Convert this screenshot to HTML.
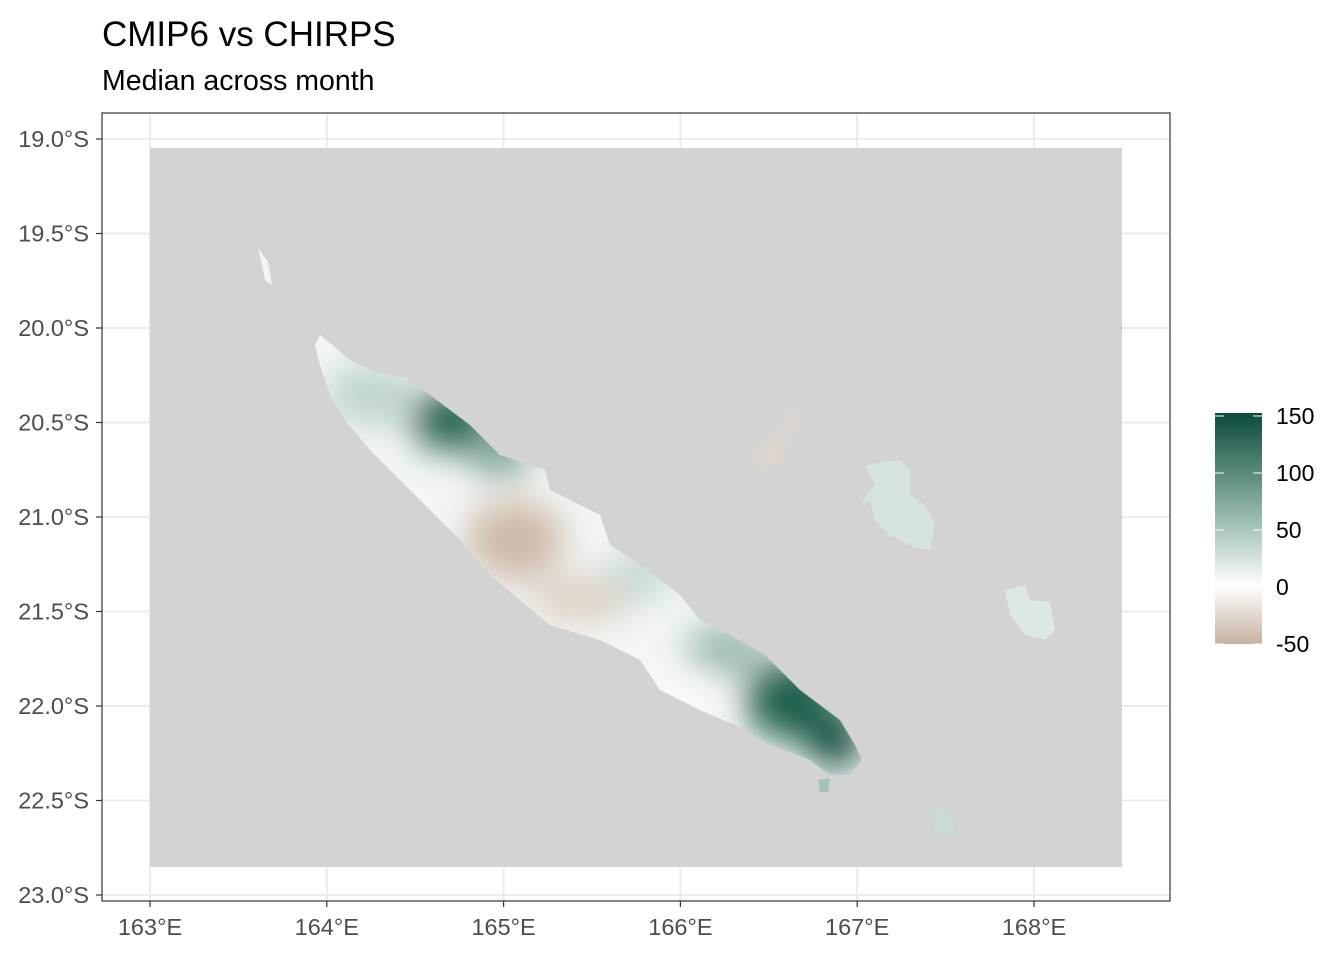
<!DOCTYPE html>
<html><head><meta charset="utf-8">
<style>
body{margin:0;background:#fff;}
svg{display:block;font-family:"Liberation Sans",sans-serif;}
</style></head>
<body>
<svg id="chart" width="1344" height="960">
<defs>
<filter id="blur" x="-50%" y="-50%" width="200%" height="200%"><feGaussianBlur stdDeviation="18"/></filter>
<filter id="blur2" x="-50%" y="-50%" width="200%" height="200%"><feGaussianBlur stdDeviation="8"/></filter>
<clipPath id="islandClip"><polygon id="mainPoly" points="320,335 350,360 375,372 405,378 430,395 470,425 500,455 545,470 550,490 600,515 610,545 640,565 680,595 700,620 740,640 765,655 800,690 840,720 855,745 862,760 850,775 830,775 810,760 770,745 735,725 700,710 660,690 640,660 600,640 550,625 520,600 490,575 460,540 430,510 400,480 370,450 345,420 330,395 320,365 315,345"/></clipPath>
<linearGradient id="cbar" x1="0" y1="0" x2="0" y2="1">
<stop offset="0" stop-color="#0b4a3c"/>
<stop offset="0.25" stop-color="#58887a"/>
<stop offset="0.5" stop-color="#a8c5bb"/>
<stop offset="0.75" stop-color="#ffffff"/>
<stop offset="1" stop-color="#c6b1a0"/>
</linearGradient>
</defs>
<text x="102" y="46" font-size="35" fill="#000">CMIP6 vs CHIRPS</text>
<text x="102" y="90" font-size="28.5" fill="#000">Median across month</text>
<g id="grid"></g>
<rect x="150" y="148" width="972" height="719" fill="#d3d3d3"/>
<g clip-path="url(#islandClip)">
<rect x="300" y="320" width="580" height="470" fill="#f3f6f5"/>
<g filter="url(#blur)">
<ellipse cx="370" cy="395" rx="45" ry="30" fill="#bcd3cb"/>
<ellipse cx="450" cy="420" rx="40" ry="30" fill="#1f5e4e"/>
<ellipse cx="500" cy="455" rx="30" ry="20" fill="#6c978a"/>
<ellipse cx="515" cy="540" rx="50" ry="40" fill="#cdb9a8"/>
<ellipse cx="580" cy="600" rx="50" ry="22" fill="#dccdc0"/>
<ellipse cx="640" cy="575" rx="35" ry="25" fill="#c5d8d1"/>
<ellipse cx="725" cy="650" rx="40" ry="25" fill="#94b5aa"/>
<ellipse cx="790" cy="700" rx="45" ry="40" fill="#1f5e4e"/>
<ellipse cx="835" cy="740" rx="28" ry="28" fill="#08463a"/>
<ellipse cx="690" cy="690" rx="30" ry="20" fill="#ffffff"/>
</g>
</g>
<g>
<polygon points="258,248 268,262 272,285 265,280 262,265" fill="#f4f6f5"/>
<polygon points="750,460 775,440 790,420 785,405 795,410 798,420 785,440 780,460 760,465" fill="#e3d6cb" filter="url(#blur2)"/>
<polygon points="865,465 900,460 910,470 910,495 925,505 935,525 930,550 915,548 890,535 875,520 870,500 860,505 875,485" fill="#d6e4df"/>
<polygon points="1005,590 1025,585 1030,600 1050,602 1055,630 1045,640 1025,635 1010,615" fill="#dde8e4"/>
<polygon points="930,808 950,812 955,835 935,835" fill="#c9dbd4"/>
<polygon points="818,780 830,778 828,792 820,792" fill="#a6c2b8"/>
</g>
<rect x="102" y="113" width="1068" height="788" fill="none" stroke="#333" stroke-width="1.2"/>
<g id="axes"></g>
<g>
<rect x="1215" y="413" width="47" height="231" fill="url(#cbar)"/>
<g id="cbticks"></g>
</g>
</svg>
<script>
const xTicks=[163,164,165,166,167,168];
const yTicks=[19.0,19.5,20.0,20.5,21.0,21.5,22.0,22.5,23.0];
const legendValues=[150,100,50,0,-50];
const NS='http://www.w3.org/2000/svg';
const xs=v=>150+(v-163)*176.8;
const ys=v=>139+(v-19)*189;
const ls=v=>416+(150-v)*(228/200);
const grid=document.getElementById('grid'),axes=document.getElementById('axes'),cb=document.getElementById('cbticks');
function mk(t,a,p){const e=document.createElementNS(NS,t);for(const k in a)e.setAttribute(k,a[k]);p.appendChild(e);return e;}
xTicks.forEach(v=>{const x=xs(v);
const g=mk('line',{x1:x,x2:x,y1:113,y2:901,stroke:'#ebebeb','stroke-width':2},grid);


const t=mk('line',{x1:x,x2:x,y1:901,y2:907,stroke:'#333','stroke-width':1.2},axes);


const l=mk('text',{x:x,y:935,'font-size':23.5,fill:'#4d4d4d','text-anchor':'middle'},axes);l.textContent=v+'°E';

});
yTicks.forEach(v=>{const y=ys(v);
const g=mk('line',{x1:102,x2:1170,y1:y,y2:y,stroke:'#ebebeb','stroke-width':2},grid);


const t=mk('line',{x1:96,x2:102,y1:y,y2:y,stroke:'#333','stroke-width':1.2},axes);


const l=mk('text',{x:89,y:y+8,'font-size':23.5,fill:'#4d4d4d','text-anchor':'end'},axes);l.textContent=v.toFixed(1)+'°S';

});
legendValues.forEach(v=>{const y=ls(v);
mk('line',{x1:1215,x2:1224,y1:y,y2:y,stroke:'#fff','stroke-width':1},cb);
mk('line',{x1:1253,x2:1262,y1:y,y2:y,stroke:'#fff','stroke-width':1},cb);
const l=mk('text',{x:1276,y:y+8,'font-size':23,fill:'#000'},cb);l.textContent=v;

});
</script>
</body></html>
